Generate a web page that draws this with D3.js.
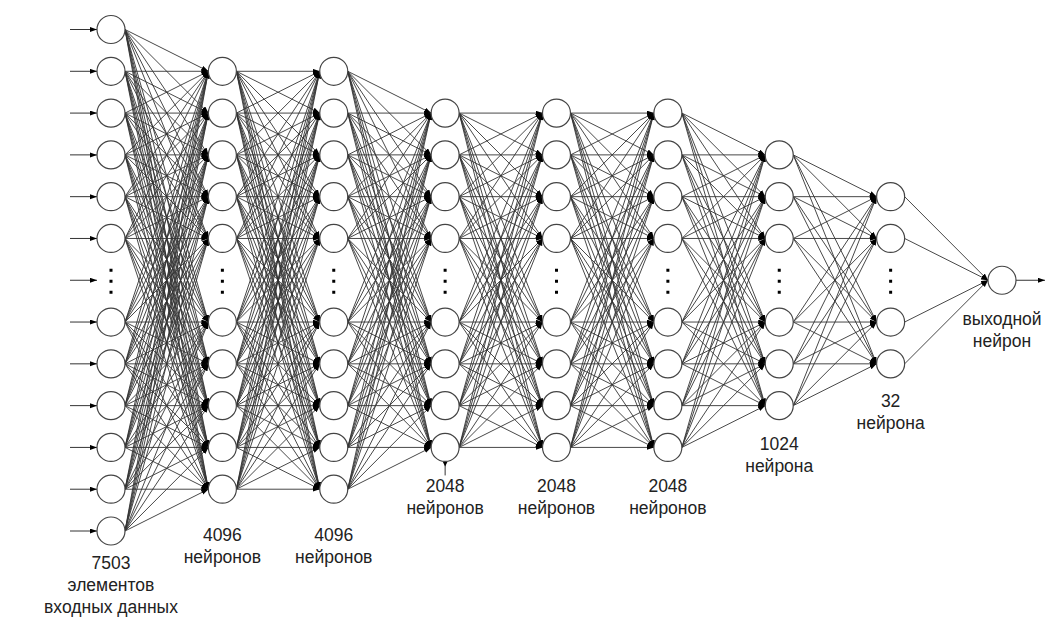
<!DOCTYPE html>
<html>
<head>
<meta charset="utf-8">
<script src="https://cdn.jsdelivr.net/npm/d3@7"></script>
<style>
  body { margin: 0; background: #fff; }
  svg { display: block; }
</style>
</head>
<body>
<div id="chart"></div>
<script>
// Number of slots in each layer (one slot in the middle is the "dots" slot)
var layerSlots = [13, 11, 11, 9, 9, 9, 7, 5, 1];

// Text under each layer
var layerLabels = [
    ["7503", "элементов", "входных данных"],
    ["4096", "нейронов"],
    ["4096", "нейронов"],
    ["2048", "нейронов"],
    ["2048", "нейронов"],
    ["2048", "нейронов"],
    ["1024", "нейрона"],
    ["32", "нейрона"],
    ["выходной", "нейрон"]
];

// Distance from the lowest node to the first label line
var labelOffsets = [38, 52, 52, 45, 45, 45, 44, 43, 45];

var width = 1045, height = 617;
var r = 14;
var totalRows = 13;
var midRow = 6;
var lineColor = "#333";

var svg = d3.select("#chart")
    .append("svg")
    .attr("width", width)
    .attr("height", height);

// Scales for layer position and row position
var x = d3.scalePoint()
    .domain(d3.range(layerSlots.length))
    .range([111, 1002]);

var y = d3.scaleLinear()
    .domain([0, totalRows - 1])
    .range([29.5, 531]);

// Arrow head
svg.append("defs").append("marker")
    .attr("id", "arrow")
    .attr("markerUnits", "userSpaceOnUse")
    .attr("markerWidth", 8)
    .attr("markerHeight", 6)
    .attr("refX", 7)
    .attr("refY", 2.5)
    .attr("orient", "auto")
    .append("path")
    .attr("d", "M0,0 L7,2.5 L0,5 Z")
    .attr("fill", "#000");

// Work out which rows every layer uses
var layers = layerSlots.map(function (n, i) {
    var first = midRow - (n - 1) / 2;
    var rows = d3.range(first, first + n);
    return {
        index: i,
        rows: rows,
        nodes: rows.filter(function (row) { return n == 1 || row != midRow; }),
        hasDots: n > 1
    };
});

// All the connections between neighbouring layers
var edges = [];
for (var i = 0; i < layers.length - 1; i++) {
    layers[i].nodes.forEach(function (a) {
        layers[i + 1].nodes.forEach(function (b) {
            edges.push({ from: i, a: a, b: b });
        });
    });
}

svg.append("g")
    .selectAll("line")
    .data(edges)
    .enter()
    .append("line")
    .attr("x1", d => x(d.from) + r)
    .attr("y1", d => y(d.a))
    .attr("x2", d => x(d.from + 1) - r)
    .attr("y2", d => y(d.b))
    .attr("stroke", lineColor)
    .attr("stroke-width", 0.9)
    .attr("marker-end", "url(#arrow)");

// Input arrows on the first layer (also for the dots row)
svg.append("g")
    .selectAll("line")
    .data(layers[0].rows)
    .enter()
    .append("line")
    .attr("x1", x(0) - r - 27)
    .attr("x2", x(0) - r)
    .attr("y1", d => y(d))
    .attr("y2", d => y(d))
    .attr("stroke", lineColor)
    .attr("stroke-width", 1)
    .attr("marker-end", "url(#arrow)");

// Output arrow
var last = layers.length - 1;
svg.append("line")
    .attr("x1", x(last) + r)
    .attr("x2", width)
    .attr("y1", y(midRow))
    .attr("y2", y(midRow))
    .attr("stroke", lineColor)
    .attr("stroke-width", 1)
    .attr("marker-end", "url(#arrow)");

// Little stub under the lowest node of the first 2048 layer
var stubRow = d3.max(layers[3].nodes);
svg.append("line")
    .attr("x1", x(3))
    .attr("x2", x(3))
    .attr("y1", y(stubRow) + r)
    .attr("y2", y(stubRow) + r + 14)
    .attr("stroke", lineColor)
    .attr("stroke-width", 1);
svg.append("path")
    .attr("d", `M${x(3) - 2.5},${y(stubRow) + r} L${x(3) + 2.5},${y(stubRow) + r} L${x(3)},${y(stubRow) + r + 5} Z`)
    .attr("fill", "#000");

// Nodes
var layerGroups = svg.append("g")
    .selectAll("g")
    .data(layers)
    .enter()
    .append("g");

layerGroups.selectAll("circle")
    .data(d => d.nodes.map(row => ({ layer: d.index, row: row })))
    .enter()
    .append("circle")
    .attr("cx", d => x(d.layer))
    .attr("cy", d => y(d.row))
    .attr("r", r)
    .attr("fill", "#fff")
    .attr("stroke", "#444")
    .attr("stroke-width", 1.2);

// Vertical dots in the skipped row
layerGroups.filter(d => d.hasDots)
    .selectAll("rect")
    .data(d => [-11, 0, 11].map(off => ({ layer: d.index, off: off })))
    .enter()
    .append("rect")
    .attr("x", d => x(d.layer) - 1.5)
    .attr("y", d => y(midRow) + d.off - 0.5)
    .attr("width", 3)
    .attr("height", 3)
    .attr("fill", "#000");

// Labels under each layer
var labels = svg.append("g")
    .selectAll("text")
    .data(layers)
    .enter()
    .append("text")
    .attr("x", d => x(d.index))
    .attr("y", d => y(d3.max(d.nodes)) + labelOffsets[d.index])
    .attr("text-anchor", "middle")
    .attr("font-family", "'Liberation Sans', Arial, sans-serif")
    .attr("font-size", 17.5)
    .attr("fill", "#222");

labels.selectAll("tspan")
    .data(d => layerLabels[d.index].map(t => ({ layer: d.index, text: t })))
    .enter()
    .append("tspan")
    .attr("x", d => x(d.layer))
    .attr("dy", (d, i) => i == 0 ? 0 : 22)
    .text(d => d.text);
</script>
</body>
</html>
